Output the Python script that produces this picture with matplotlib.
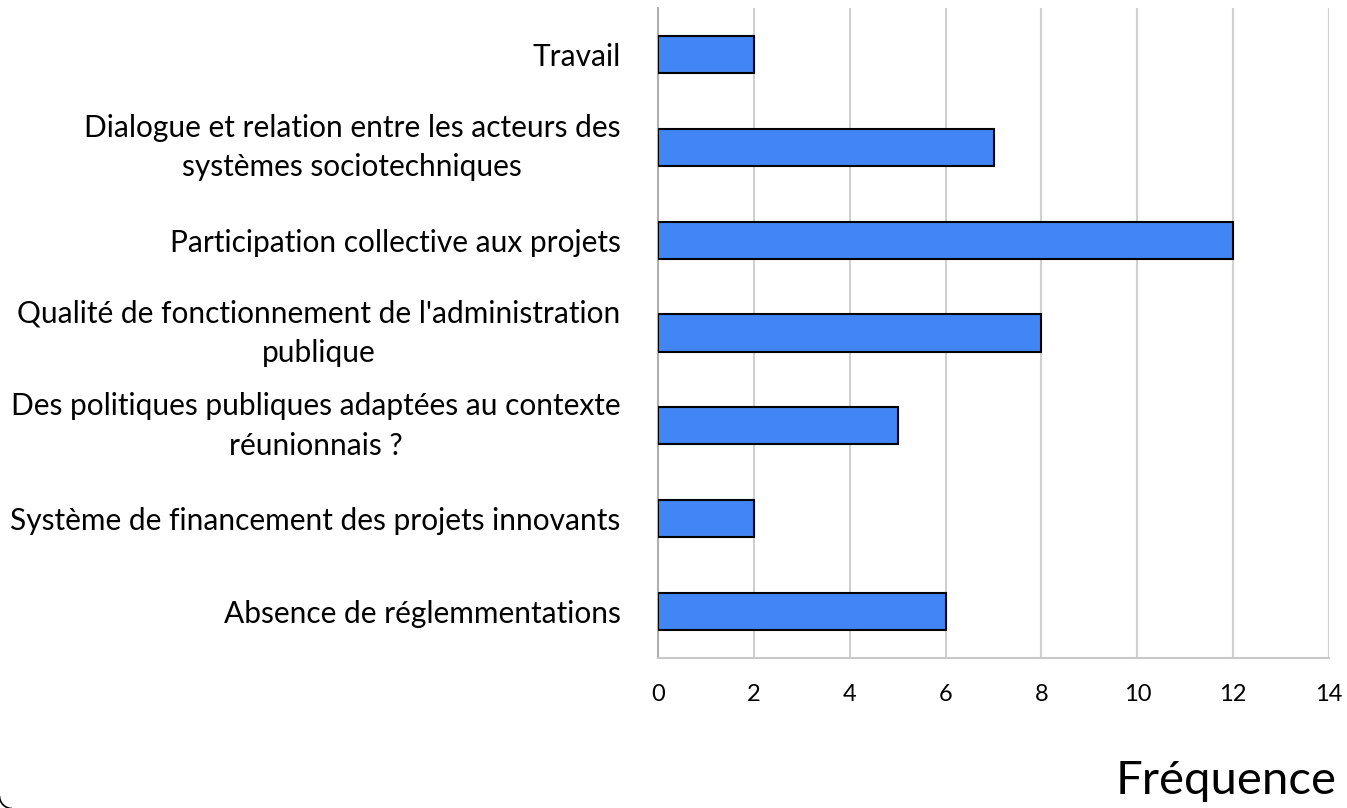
import matplotlib.pyplot as plt
from matplotlib.patches import Arc
from matplotlib.transforms import IdentityTransform

# categories, bottom to top
categories = [
    "Absence de réglemmentations",
    "Système de financement des projets innovants",
    "Des politiques publiques adaptées au contexte\nréunionnais ?",
    "Qualité de fonctionnement de l'administration\npublique",
    "Participation collective aux projets",
    "Dialogue et relation entre les acteurs des\nsystèmes sociotechniques",
    "Travail",
]
frequences = [6, 2, 5, 8, 12, 7, 2]
xticks = [0, 2, 4, 6, 8, 10, 12, 14]

plt.rcParams['font.family'] = ['Lato', 'DejaVu Sans']

fig = plt.figure(figsize=(13.47, 8.08), dpi=100)
ax = fig.add_axes([658 / 1347, 150 / 808, 671 / 1347, 650 / 808])

pos = list(range(len(categories)))
ax.barh(pos, frequences, height=0.4, color='#4285F4', edgecolor='black',
        linewidth=1.5, zorder=3)

ax.set_xlim(0, 14)
ax.set_ylim(-0.5, 6.5)
ax.set_xticks(xticks)
ax.set_xticklabels([str(t) for t in xticks], fontsize=17)
ax.set_yticks(pos)
ax.set_yticklabels(categories, fontsize=21.5, multialignment='center',
                   linespacing=1.5)
# two-line labels centred on the bar, single ones on their baseline
for lbl in ax.get_yticklabels():
    if '\n' in lbl.get_text():
        lbl.set_va('center')
ax.tick_params(axis='both', length=0)
ax.tick_params(axis='x', pad=19)
ax.tick_params(axis='y', pad=27)

ax.grid(axis='x', color='#d0d0d0', linewidth=1.5, zorder=0)
for s in ['top', 'right']:
    ax.spines[s].set_visible(False)
ax.spines['left'].set_color('#b0b0b0')
ax.spines['left'].set_linewidth(1.5)
ax.spines['bottom'].set_color('#c8c8c8')
ax.spines['bottom'].set_linewidth(1.5)

fig.text(1337 / 1347, 6 / 808, "Fréquence", fontsize=34, ha='right', va='bottom')

# bottom-left corner of the chart border, the rest is outside the picture
corner = Arc((12, 12), 25, 25, theta1=180, theta2=270,
             transform=IdentityTransform(), edgecolor='black', linewidth=1.2)
fig.patches.append(corner)

fig.savefig('out.png', dpi=100)
